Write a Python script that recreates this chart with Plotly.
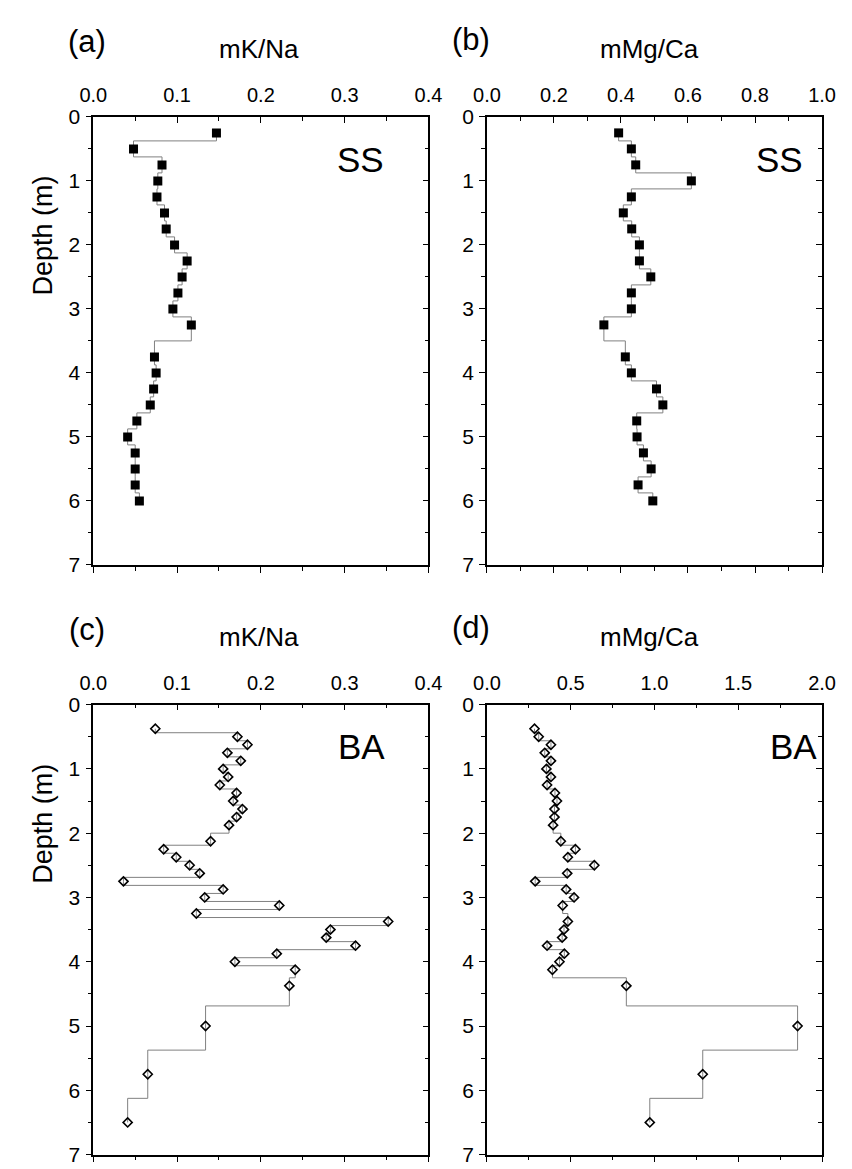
import plotly.graph_objects as go

# ---------------- data ----------------
depth_ss = [0.25, 0.5, 0.75, 1.0, 1.25, 1.5, 1.75, 2.0, 2.25, 2.5, 2.75, 3.0, 3.25,
            3.75, 4.0, 4.25, 4.5, 4.75, 5.0, 5.25, 5.5, 5.75, 6.0]
mkna_ss = [0.147, 0.048, 0.082, 0.077, 0.076, 0.085, 0.087, 0.097, 0.112, 0.106, 0.101, 0.095, 0.117,
           0.073, 0.075, 0.072, 0.068, 0.052, 0.041, 0.050, 0.050, 0.050, 0.055]
mgca_ss = [0.393, 0.431, 0.444, 0.610, 0.431, 0.407, 0.432, 0.455, 0.455, 0.489, 0.431, 0.431, 0.349,
           0.413, 0.431, 0.506, 0.525, 0.447, 0.448, 0.467, 0.490, 0.451, 0.495]

depth_ba_k = [0.375, 0.5, 0.625, 0.75, 0.875, 1.0, 1.125, 1.25, 1.375, 1.5, 1.625, 1.75, 1.875,
              2.125, 2.25, 2.375, 2.5, 2.625, 2.75, 2.875, 3.0, 3.125, 3.25, 3.375, 3.5, 3.625,
              3.75, 3.875, 4.0, 4.125, 4.375, 5.0, 5.75, 6.5]
mkna_ba = [0.074, 0.172, 0.184, 0.160, 0.176, 0.155, 0.161, 0.151, 0.171, 0.167, 0.178, 0.171, 0.162,
           0.140, 0.084, 0.099, 0.115, 0.127, 0.036, 0.155, 0.133, 0.222, 0.123, 0.352, 0.283, 0.278,
           0.313, 0.219, 0.169, 0.241, 0.234, 0.134, 0.065, 0.041]

depth_ba_m = [0.375, 0.5, 0.625, 0.75, 0.875, 1.0, 1.125, 1.25, 1.375, 1.5, 1.625, 1.75, 1.875,
              2.125, 2.25, 2.375, 2.5, 2.625, 2.75, 2.875, 3.0, 3.125, 3.375, 3.5, 3.625,
              3.75, 3.875, 4.0, 4.125, 4.375, 5.0, 5.75, 6.5]
mgca_ba = [0.284, 0.309, 0.382, 0.345, 0.382, 0.355, 0.382, 0.359, 0.406, 0.418, 0.403, 0.403, 0.395,
           0.441, 0.528, 0.483, 0.641, 0.479, 0.288, 0.473, 0.520, 0.452, 0.483, 0.460, 0.449,
           0.359, 0.462, 0.433, 0.391, 0.832, 1.854, 1.288, 0.972]

panel_letters = ["(a)", "(b)", "(c)", "(d)"]
panel_titles = ["mK/Na", "mMg/Ca", "mK/Na", "mMg/Ca"]
site_labels = ["SS", "SS", "BA", "BA"]
x_ranges = [[0, 0.4], [0, 1.0], [0, 0.4], [0, 2.0]]
x_dticks = [0.1, 0.2, 0.1, 0.5]
depth_ticks = [0, 1, 2, 3, 4, 5, 6, 7]

# ---------------- layout geometry ----------------
W, H = 852, 1169
FONT = "Arial, Liberation Sans, Helvetica, sans-serif"
px_x = lambda v: v / W
px_y = lambda v: 1 - v / H

x_doms = [[px_x(82), px_x(428.5)], [px_x(489), px_x(835.5)],
          [px_x(82), px_x(428.5)], [px_x(489), px_x(835.5)]]
y_doms = [[px_y(564), px_y(107)], [px_y(564), px_y(107)],
          [px_y(1165.5), px_y(706.5)], [px_y(1165.5), px_y(706.5)]]

series = [(mkna_ss, depth_ss, "square"), (mgca_ss, depth_ss, "square"),
          (mkna_ba, depth_ba_k, "diamond-open"), (mgca_ba, depth_ba_m, "diamond-open")]

fig = go.Figure()
layout = {}
for i in range(4):
    k = i + 1
    xs, ys, sym = series[i]
    filled = sym == "square"
    fig.add_trace(go.Scatter(
        x=xs, y=ys, mode="lines+markers",
        line=dict(color="#808080", width=1, shape="vhv"),
        marker=dict(symbol=sym, size=9 if filled else 7, color="black",
                    line=dict(color="black", width=0 if filled else 1.6)),
        xaxis=f"x{k}", yaxis=f"y{k}", showlegend=False, hoverinfo="skip"))
    # dummy traces to draw the bottom / right frame axes
    fig.add_trace(go.Scatter(x=[None], y=[None], xaxis=f"x{k+4}", yaxis=f"y{k}",
                             showlegend=False, hoverinfo="skip"))
    fig.add_trace(go.Scatter(x=[None], y=[None], xaxis=f"x{k}", yaxis=f"y{k+4}",
                             showlegend=False, hoverinfo="skip"))

    common_line = dict(showline=True, linecolor="black", linewidth=1.6,
                       showgrid=False, zeroline=False)
    dt = x_dticks[i]
    layout[f"xaxis{k}"] = dict(
        domain=x_doms[i], range=x_ranges[i], anchor=f"y{k}", side="top",
        tickmode="linear", tick0=0, dtick=dt, tickformat=".1f",
        ticks="inside", ticklen=6, tickwidth=1.4, tickcolor="black",
        minor=dict(ticks="inside", ticklen=4, tickwidth=1.2, dtick=dt / 2, tick0=0, tickcolor="black"),
        tickfont=dict(family=FONT, size=20, color="black"),
        ticklabelstandoff=5, **common_line)
    layout[f"xaxis{k+4}"] = dict(
        domain=x_doms[i], range=x_ranges[i], anchor=f"y{k}", overlaying=f"x{k}", side="bottom",
        tickmode="linear", tick0=0, dtick=dt, showticklabels=False,
        ticks="outside", ticklen=6, tickwidth=1.4, tickcolor="black",
        minor=dict(ticks="outside", ticklen=4, tickwidth=1.2, dtick=dt / 2, tick0=0, tickcolor="black"),
        **common_line)
    layout[f"yaxis{k}"] = dict(
        domain=y_doms[i], range=[7, 0], anchor=f"x{k}",
        tickmode="array", tickvals=depth_ticks, ticktext=[str(t) for t in depth_ticks],
        ticks="outside", ticklen=6, tickwidth=1.4, tickcolor="black",
        minor=dict(ticks="outside", ticklen=4, tickwidth=1.2, dtick=0.5, tick0=0, tickcolor="black"),
        tickfont=dict(family=FONT, size=21, color="black"),
        ticklabelstandoff=1, **common_line)
    layout[f"yaxis{k+4}"] = dict(
        domain=y_doms[i], range=[7, 0], anchor=f"x{k}", overlaying=f"y{k}", side="right",
        tickmode="linear", tick0=0, dtick=1, showticklabels=False,
        ticks="inside", ticklen=6, tickwidth=1.4, tickcolor="black",
        minor=dict(ticks="inside", ticklen=4, tickwidth=1.2, dtick=0.5, tick0=0, tickcolor="black"),
        **common_line)

annotations = []
letter_pos = [(75, 30), (473, 28), (75, 630), (473, 628)]
title_pos = [(253, 38), (657, 38), (253, 638), (657, 638)]
site_pos = [(358, 150), (791, 150), (359, 749), (806, 749)]
for i in range(4):
    lx, ly = letter_pos[i]
    annotations.append(dict(text=panel_letters[i], x=px_x(lx), y=px_y(ly), xref="paper", yref="paper",
                            showarrow=False, xanchor="center", yanchor="middle",
                            font=dict(family=FONT, size=31, color="black")))
    tx, ty = title_pos[i]
    annotations.append(dict(text=panel_titles[i], x=px_x(tx), y=px_y(ty), xref="paper", yref="paper",
                            showarrow=False, xanchor="center", yanchor="middle",
                            font=dict(family=FONT, size=26, color="black")))
    sx, sy = site_pos[i]
    annotations.append(dict(text=site_labels[i], x=px_x(sx), y=px_y(sy), xref="paper", yref="paper",
                            showarrow=False, xanchor="center", yanchor="middle",
                            font=dict(family=FONT, size=35, color="black")))
for yc in (228, 828):
    annotations.append(dict(text="Depth (m)", x=px_x(30), y=px_y(yc), xref="paper", yref="paper",
                            showarrow=False, xanchor="center", yanchor="middle", textangle=-90,
                            font=dict(family=FONT, size=27, color="black")))

fig.update_layout(
    width=W, height=H, margin=dict(l=0, r=0, t=0, b=0),
    paper_bgcolor="white", plot_bgcolor="white",
    annotations=annotations, **layout)

fig.write_html("out.html")
